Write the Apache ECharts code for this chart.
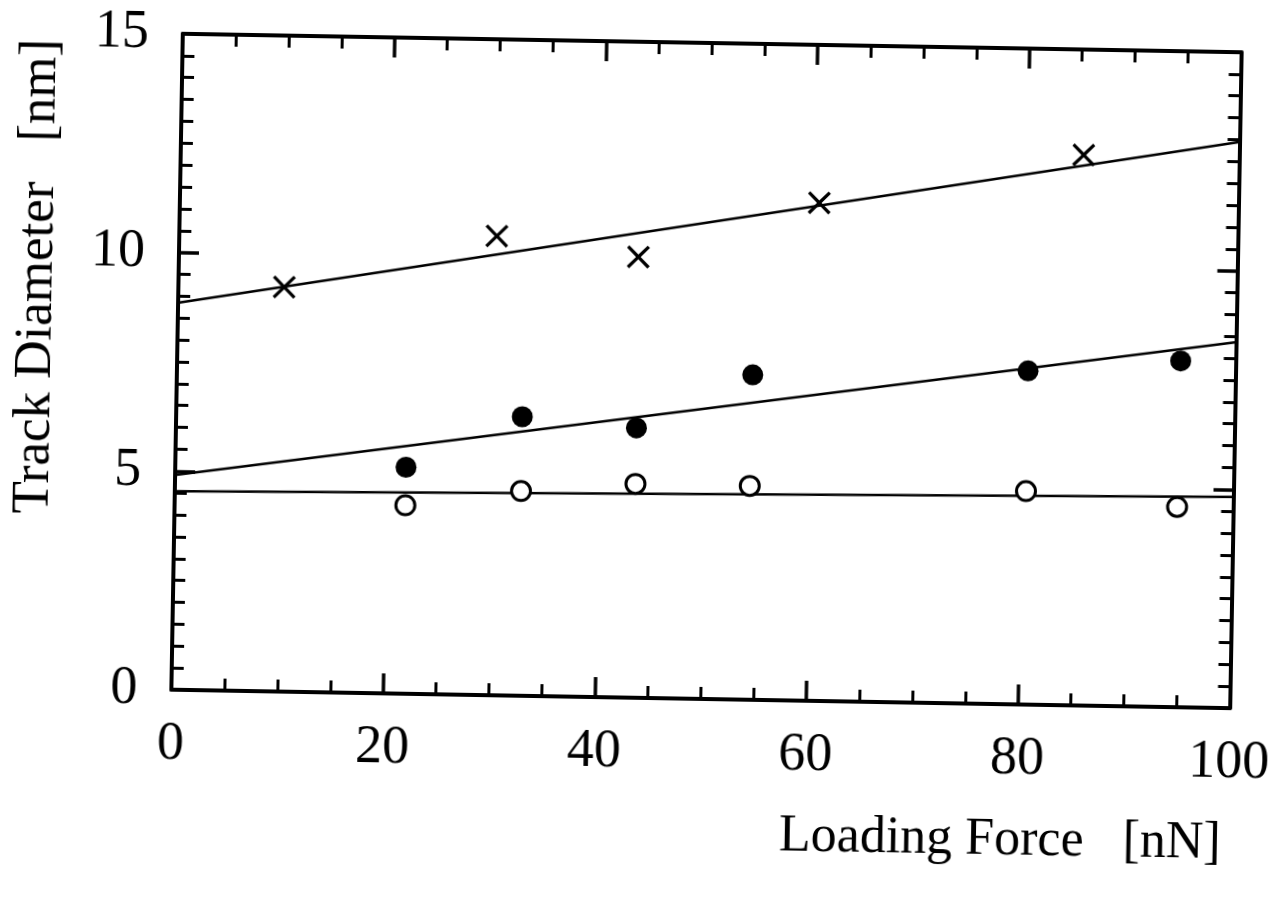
<!DOCTYPE html>
<html>
<head>
<meta charset="utf-8">
<script src="https://cdn.jsdelivr.net/npm/echarts@6/dist/echarts.min.js"></script>
<style>
  html, body { margin: 0; padding: 0; background: #fff; }
  /* the scanned figure is tilted by about one degree */
  #main { width: 1279px; height: 900px; transform: rotate(1deg); transform-origin: 708px 371px; }
</style>
</head>
<body>
<div id="main"></div>
<script>
// data
var crossX = [10.0, 30.0, 43.4, 60.4, 85.3];
var crossY = [9.25, 10.5, 10.08, 11.39, 12.59];
var filledX = [21.8, 32.7, 43.5, 54.4, 80.4, 94.8];
var filledY = [5.18, 6.38, 6.17, 7.43, 7.63, 7.92];
var openX = [21.8, 32.7, 43.5, 54.3, 80.4, 94.7];
var openY = [4.31, 4.68, 4.89, 4.89, 4.88, 4.58];
// fitted lines, value at x = 0 and x = 100
var fitX = [0, 100];
var crossFit = [8.85, 12.95];
var filledFit = [4.91, 8.37];
var openFit = [4.54, 4.83];

var FONT = 'Liberation Serif';
var chart = echarts.init(document.getElementById('main'));

function pairs(xs, ys) {
  return xs.map(function (x, i) { return [x, ys[i]]; });
}

function axis(kind, pos, show) {
  var isX = kind === 'x';
  return {
    type: 'value',
    position: pos,
    min: 0,
    max: isX ? 100 : 15,
    interval: isX ? 20 : 5,
    axisLine: { show: true, onZero: false, lineStyle: { color: '#000', width: 4 } },
    axisTick: { show: true, inside: true, length: 20, lineStyle: { color: '#000', width: 3.5 } },
    minorTick: { show: true, splitNumber: isX ? 4 : 10, length: 12, lineStyle: { color: '#000', width: 3 } },
    splitLine: { show: false },
    axisLabel: {
      show: show,
      color: '#000',
      fontFamily: FONT,
      fontSize: 54,
      margin: isX ? 28 : 34
    }
  };
}

var cross = 'path://M0,2 L2,0 L10,8 L18,0 L20,2 L12,10 L20,18 L18,20 L10,12 L2,20 L0,18 L8,10 Z';

var fitStyle = { color: '#000', width: 2.5 };

var option = {
  animation: false,
  backgroundColor: '#fff',
  grid: { left: 177, right: 40, top: 43, bottom: 201 },
  xAxis: [axis('x', 'bottom', true), axis('x', 'top', false)],
  yAxis: [axis('y', 'left', true), axis('y', 'right', false)],
  graphic: [
    {
      type: 'text', x: 36, y: 288, rotation: Math.PI / 2,
      style: { text: 'Track Diameter   [nm]', font: '53px "Liberation Serif"', fill: '#000', align: 'center', verticalAlign: 'middle' }
    },
    {
      type: 'text', x: 1008, y: 835,
      style: { text: 'Loading Force   [nN]', font: '52px "Liberation Serif"', fill: '#000', align: 'center', verticalAlign: 'middle' }
    }
  ],
  series: [
    { type: 'line', data: pairs(fitX, crossFit), symbol: 'none', lineStyle: fitStyle, z: 1 },
    { type: 'line', data: pairs(fitX, filledFit), symbol: 'none', lineStyle: fitStyle, z: 1 },
    { type: 'line', data: pairs(fitX, openFit), symbol: 'none', lineStyle: fitStyle, z: 1 },
    { type: 'scatter', data: pairs(crossX, crossY), symbol: cross, symbolSize: 23, itemStyle: { color: '#000', opacity: 1 }, z: 3 },
    { type: 'scatter', data: pairs(filledX, filledY), symbol: 'circle', symbolSize: 21, itemStyle: { color: '#000', opacity: 1 }, z: 3 },
    { type: 'scatter', data: pairs(openX, openY), symbol: 'circle', symbolSize: 19, itemStyle: { color: '#fff', borderColor: '#000', borderWidth: 3, opacity: 1 }, z: 3 }
  ]
};

chart.setOption(option);
</script>
</body>
</html>
